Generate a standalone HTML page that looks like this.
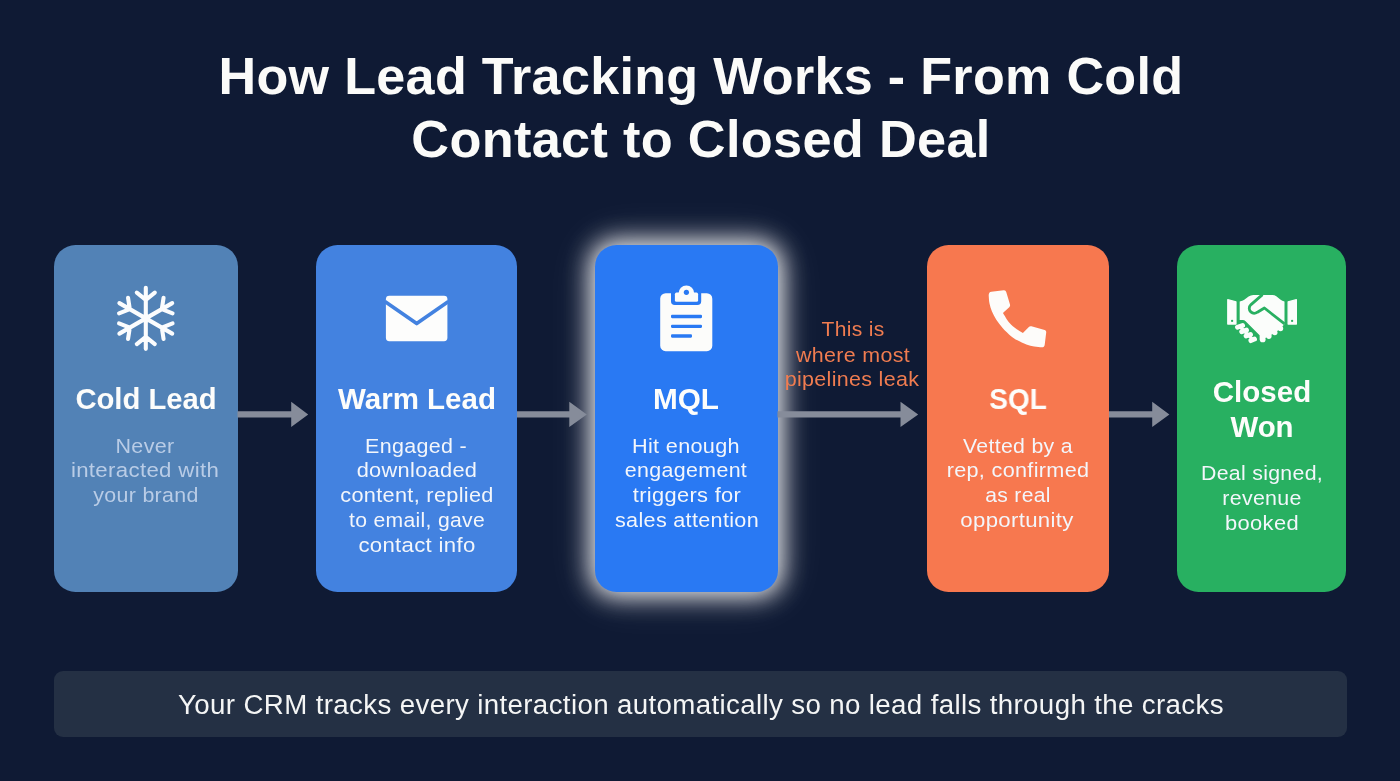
<!DOCTYPE html>
<html lang="en">
<head>
<meta charset="utf-8">
<title>How Lead Tracking Works</title>
<style>
*{box-sizing:border-box;margin:0;padding:0}
html,body{width:1400px;height:781px;overflow:hidden}
body{background:#0f1a34;font-family:"Liberation Sans",Arial,sans-serif;color:#fff;position:relative}
.ln{position:absolute;white-space:nowrap;text-align:center;line-height:1;transform-origin:50% 50%;will-change:transform}
.h1{font-weight:700;color:#fbfbf9}
.card{position:absolute;top:244.5px;height:347.5px;border-radius:21.5px}
#c1{left:53.5px;width:184px;background:#5282b6}
#c2{left:316px;width:201px;background:#4382e0}
#c3{left:595px;width:182.5px;background:#2979f3;box-shadow:0 0 24px 5px rgba(255,255,255,.9),0 0 44px 10px rgba(255,255,255,.12)}
#c4{left:926.5px;width:182.5px;background:#f7784f}
#c5{left:1177.3px;width:169.1px;background:#28b061}
.t{font-weight:700;color:#fdfdfb}
.d{color:#f3f6fb}
.d1{color:#b9cce6}
.o{color:#f07c50}
.foot{position:absolute;left:53.5px;top:671px;width:1293px;height:66px;border-radius:9px;background:#243044}
.ft{color:#f4f5f5}
svg{position:absolute;left:0;top:0;overflow:visible}
</style>
</head>
<body>
<div class="card" id="c1"></div>
<div class="card" id="c2"></div>
<div class="card" id="c3"></div>
<div class="card" id="c4"></div>
<div class="card" id="c5"></div>
<div class="foot"></div>

<svg width="1400" height="781" viewBox="0 0 1400 781" aria-hidden="true">
<g fill="#868c9a">
<path d="M237.500 411.200H291.200V401.800L308.200 414.400L291.200 427V417.600H237.500z"/>
<path d="M517 411.200H569.300V401.800L586.800 414.400L569.300 427V417.600H517z"/>
<path d="M777.500 411.200H900.500V401.800L918.200 414.400L900.500 427V417.600H777.500z"/>
<path d="M1109 411.200H1152.200V401.800L1169.400 414.400L1152.200 427V417.600H1109z"/>
</g>
<g id="ic1"><path d="M145.8 318.35L145.8 287.85M136.8 292.65L145.8 299.85L154.8 292.65M145.8 318.35L172.21 303.1M163.56 297.71L161.82 309.1L172.56 313.29M145.8 318.35L172.21 333.6M172.56 323.41L161.82 327.6L163.56 338.99M145.8 318.35L145.8 348.85M154.8 344.05L145.8 336.85L136.8 344.05M145.8 318.35L119.39 333.6M128.04 338.99L129.78 327.6L119.04 323.41M145.8 318.35L119.39 303.1M119.04 313.29L129.78 309.1L128.04 297.71" fill="none" stroke="#fbfcfd" stroke-width="4.1" stroke-linecap="round" stroke-linejoin="round"/></g>
<g id="ic2"><rect x="385.9" y="295.7" width="61.5" height="45.5" rx="3.4" fill="#fdfdfc"/><path d="M384.9 301.5L416.7 323.6L448.4 301.5" fill="none" stroke="#4382e0" stroke-width="3.6" stroke-linejoin="round"/></g>
<g id="ic3"><rect x="660.2" y="293.2" width="52.1" height="58" rx="5.5" fill="#fcfcfa"/><path d="M671 292h30.2v9.300a3.800 3.800 0 0 1-3.800 3.800h-22.600a3.800 3.800 0 0 1-3.800-3.800z" fill="#2979f3"/><circle cx="686.4" cy="293.2" r="7.8" fill="#fcfcfa"/><rect x="674.9" y="292.6" width="23.2" height="9.200" rx="1.6" fill="#fcfcfa"/><circle cx="686.4" cy="292.3" r="2.6" fill="#2979f3"/><g fill="#2979f3"><rect x="671" y="314.85" width="31" height="3.3" rx="1.1"/><rect x="671" y="324.65" width="31" height="3.3" rx="1.1"/><rect x="671" y="334.35" width="21" height="3.3" rx="1.1"/></g></g>
<g id="ic4"><path d="M991.39 291.67L1003.69 290.2Q1005.66 289.95 1006.23 291.92L1010 304.38Q1010.41 306.02 1009.26 307.16L1003.69 312.25Q1002.87 312.82 1003.2 313.39C1004.26 315.01 1007.43 320.5 1009.59 323.07C1011.75 325.63 1013.93 327.14 1016.15 328.8C1018.36 330.47 1021.75 332.36 1022.87 333.07L1028.61 327.16Q1029.75 325.85 1031.39 326.26L1044.67 329.95Q1046.48 330.52 1046.23 332.33L1044.75 344.38Q1044.43 347.33 1041.56 347.25C1040.33 347.12 1036.71 346.99 1034.18 346.51C1031.65 346.03 1029.19 345.42 1026.39 344.38C1023.59 343.34 1019.93 341.64 1017.38 340.28C1014.82 338.91 1013.52 338.23 1011.07 336.18C1008.61 334.13 1005.08 330.72 1002.62 327.98C1000.16 325.25 998.09 322.52 996.31 319.79C994.54 317.05 993.1 314.32 991.97 311.59C990.83 308.86 990.04 305.92 989.51 303.39C988.98 300.87 988.89 297.59 988.77 296.43Q988.28 292.08 991.39 291.67Z" fill="#fdfcfa"/></g>
<g id="ic5"><path d="M1227.75 299.7L1236 301.8L1236 324.1L1227.75 324.1Z" fill="#fbfdfb" stroke="#fbfdfb" stroke-width="1.2" stroke-linejoin="round"/><path d="M1288.1 301.8L1296.4 299.7L1296.4 324.1L1288.1 324.1Z" fill="#fbfdfb" stroke="#fbfdfb" stroke-width="1.2" stroke-linejoin="round"/><circle cx="1232.1" cy="320.9" r="1.15" fill="#28b061"/><circle cx="1292.1" cy="320.9" r="1.15" fill="#28b061"/><path d="M1239.7 301.6Q1242.6 300.9 1244.3 299.7L1248.6 296.4Q1250.8 294.9 1253.3 294.9L1272.4 294.9Q1274.6 294.9 1276.3 296.3L1280.3 299.5Q1282.2 300.9 1284.5 301.6L1284.5 324L1280.4 328.7L1274.8 332.7L1269 336.1L1262.7 339.4L1259.7 339.6L1259.6 335.2L1245.6 321.2Q1244.4 320 1242.8 320L1239.7 319.9Z" fill="#fbfdfb"/><circle cx="1280.5" cy="328.5" r="2.7" fill="#fbfdfb"/><circle cx="1274.8" cy="332.6" r="2.7" fill="#fbfdfb"/><circle cx="1268.9" cy="336.1" r="2.8" fill="#fbfdfb"/><circle cx="1262.7" cy="339.4" r="2.9" fill="#fbfdfb"/><path d="M1237.5 327.3L1242.6 325.5M1241.7 331.7L1246.5 330M1246.1 336L1250.5 334.5M1250.9 340.6L1254.5 339.1" fill="none" stroke="#fbfdfb" stroke-width="4.9" stroke-linecap="round"/><path d="M1240.3 327L1252.4 339.2" fill="none" stroke="#fbfdfb" stroke-width="3.2" stroke-linecap="round"/><path d="M1262.5 294.6L1251 304.6C1248.5 307 1248.9 310.2 1250.8 311.9C1252.800 313.700 1255.600 313.400 1257.400 312.200L1264.400 308L1284.600 323.900" fill="none" stroke="#28b061" stroke-width="2.800" stroke-linejoin="round"/></g>
</svg>

<div class="ln h1" id="h1a" style="left:100.72px;top:51.00px;width:1200px;font-size:51.5px;letter-spacing:0.3px;transform:scaleX(1.0115)">How Lead Tracking Works - From Cold</div>
<div class="ln h1" id="h1b" style="left:101.11px;top:114.00px;width:1200px;font-size:51.5px;letter-spacing:0.3px;transform:scaleX(1.0157)">Contact to Closed Deal</div>
<div class="ln t" id="t1" style="left:-4.32px;top:385.00px;width:300px;font-size:29.2px;letter-spacing:0px;transform:scaleX(0.9995)">Cold Lead</div>
<div class="ln d d1" id="d1a" style="left:-4.93px;top:436.01px;width:300px;font-size:20.5px;letter-spacing:0.3px;transform:scaleX(1.0490)">Never</div>
<div class="ln d d1" id="d1b" style="left:-4.74px;top:460.01px;width:300px;font-size:20.5px;letter-spacing:0.3px;transform:scaleX(1.0841)">interacted with</div>
<div class="ln d d1" id="d1c" style="left:-3.89px;top:485.03px;width:300px;font-size:20.5px;letter-spacing:0.3px;transform:scaleX(1.0431)">your brand</div>
<div class="ln t" id="t2" style="left:267.25px;top:385.00px;width:300px;font-size:29.2px;letter-spacing:0px;transform:scaleX(1.0103)">Warm Lead</div>
<div class="ln d" id="d2a" style="left:266.33px;top:436.00px;width:300px;font-size:20.5px;letter-spacing:0.3px;transform:scaleX(1.0473)">Engaged -</div>
<div class="ln d" id="d2b" style="left:266.60px;top:460.00px;width:300px;font-size:20.5px;letter-spacing:0.3px;transform:scaleX(1.0622)">downloaded</div>
<div class="ln d" id="d2c" style="left:266.61px;top:485.00px;width:300px;font-size:20.5px;letter-spacing:0.3px;transform:scaleX(1.0588)">content, replied</div>
<div class="ln d" id="d2d" style="left:267.37px;top:510.02px;width:300px;font-size:20.5px;letter-spacing:0.3px;transform:scaleX(1.0311)">to email, gave</div>
<div class="ln d" id="d2e" style="left:266.80px;top:535.00px;width:300px;font-size:20.5px;letter-spacing:0.3px;transform:scaleX(1.0809)">contact info</div>
<div class="ln t" id="t3" style="left:535.80px;top:385.00px;width:300px;font-size:29.2px;letter-spacing:0px;transform:scaleX(1.0190)">MQL</div>
<div class="ln d" id="d3a" style="left:536.15px;top:436.00px;width:300px;font-size:20.5px;letter-spacing:0.3px;transform:scaleX(1.0561)">Hit enough</div>
<div class="ln d" id="d3b" style="left:536.03px;top:460.00px;width:300px;font-size:20.5px;letter-spacing:0.3px;transform:scaleX(1.0454)">engagement</div>
<div class="ln d" id="d3c" style="left:536.74px;top:485.00px;width:300px;font-size:20.5px;letter-spacing:0.3px;transform:scaleX(1.0658)">triggers for</div>
<div class="ln d" id="d3d" style="left:536.52px;top:510.00px;width:300px;font-size:20.5px;letter-spacing:0.3px;transform:scaleX(1.0532)">sales attention</div>
<div class="ln o" id="o1" style="left:702.70px;top:319.01px;width:300px;font-size:20.5px;letter-spacing:0.3px;transform:scaleX(1.0263)">This is</div>
<div class="ln o" id="o2" style="left:702.50px;top:345.02px;width:300px;font-size:20.5px;letter-spacing:0.3px;transform:scaleX(1.0454)">where most</div>
<div class="ln o" id="o3" style="left:701.81px;top:369.02px;width:300px;font-size:20.5px;letter-spacing:0.3px;transform:scaleX(1.0481)">pipelines leak</div>
<div class="ln t" id="t4" style="left:867.70px;top:385.00px;width:300px;font-size:29.2px;letter-spacing:0px;transform:scaleX(0.9580)">SQL</div>
<div class="ln d" id="d4a" style="left:868.09px;top:436.01px;width:300px;font-size:20.5px;letter-spacing:0.3px;transform:scaleX(1.0381)">Vetted by a</div>
<div class="ln d" id="d4b" style="left:867.78px;top:460.01px;width:300px;font-size:20.5px;letter-spacing:0.3px;transform:scaleX(1.0554)">rep, confirmed</div>
<div class="ln d" id="d4c" style="left:868.22px;top:485.00px;width:300px;font-size:20.5px;letter-spacing:0.3px;transform:scaleX(1.0280)">as real</div>
<div class="ln d" id="d4d" style="left:867.49px;top:510.00px;width:300px;font-size:20.5px;letter-spacing:0.3px;transform:scaleX(1.0817)">opportunity</div>
<div class="ln t" id="t5a" style="left:1112.22px;top:378.00px;width:300px;font-size:29.2px;letter-spacing:0px;transform:scaleX(1.0111)">Closed</div>
<div class="ln t" id="t5b" style="left:1112.48px;top:413.00px;width:300px;font-size:29.2px;letter-spacing:0px;transform:scaleX(1.0078)">Won</div>
<div class="ln d" id="d5a" style="left:1112.27px;top:463.03px;width:300px;font-size:20.5px;letter-spacing:0.3px;transform:scaleX(1.0377)">Deal signed,</div>
<div class="ln d" id="d5b" style="left:1111.71px;top:488.03px;width:300px;font-size:20.5px;letter-spacing:0.3px;transform:scaleX(1.0442)">revenue</div>
<div class="ln d" id="d5c" style="left:1112.21px;top:513.03px;width:300px;font-size:20.5px;letter-spacing:0.3px;transform:scaleX(1.0684)">booked</div>
<div class="ln ft" id="ft" style="left:100.62px;top:692.00px;width:1200px;font-size:27px;letter-spacing:0.35px;transform:scaleX(1.0254)">Your CRM tracks every interaction automatically so no lead falls through the cracks</div>

</body>
</html>
